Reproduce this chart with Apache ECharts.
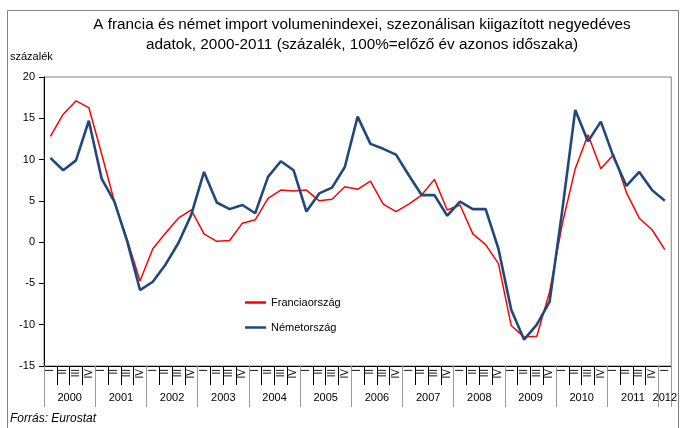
<!DOCTYPE html>
<html>
<head>
<meta charset="utf-8">
<script src="https://cdn.jsdelivr.net/npm/echarts@6/dist/echarts.min.js"></script>
<style>
  html, body { margin: 0; padding: 0; background: #fff; }
  #chart { width: 680px; height: 428px; }
</style>
</head>
<body>
<div id="chart"></div>
<script>
// negyedévek (2000 I - 2012 I)
const quarterNames = ['I', 'II', 'III', 'IV']
const years = ['2000', '2001', '2002', '2003', '2004', '2005', '2006', '2007', '2008', '2009', '2010', '2011', '2012']
const yTicks = [-15, -10, -5, 0, 5, 10, 15, 20]

const france = [12.8, 15.5, 17.1, 16.3, 10.7, 4.9, 0.3, -4.7,
  -0.8, 1.1, 2.9, 3.9, 1.0, 0.1, 0.2, 2.3,
  2.7, 5.3, 6.3, 6.2, 6.3, 5.0, 5.2, 6.7,
  6.4, 7.4, 4.6, 3.7, 4.6, 5.7, 7.6, 3.9,
  4.5, 1.0, -0.3, -2.6, -10.1, -11.5, -11.4, -6.0,
  2.3, 8.9, 13.0, 8.9, 10.6, 6.0, 2.9, 1.5,
  -0.9]
const germany = [10.2, 8.7, 9.9, 14.7, 7.7, 4.9, 0.1, -5.8,
  -4.8, -2.7, -0.1, 3.3, 8.5, 4.8, 4.0, 4.5,
  3.5, 7.9, 9.8, 8.7, 3.7, 5.9, 6.6, 9.1,
  15.2, 11.9, 11.3, 10.6, 8.1, 5.7, 5.7, 3.2,
  4.9, 4.0, 4.0, -0.8, -8.2, -11.8, -10.0, -7.2,
  4.0, 16.0, 12.2, 14.6, 10.3, 6.8, 8.5, 6.3,
  5.0]

const n = france.length
let quarters = []
let yearRow = []
for (let i = 0; i < n; i++) {
  quarters.push(quarterNames[i % 4])
  yearRow.push('')
}
// évszám a 2. negyedév helyén (jobbra tolva), az utolsó évnél a saját helyén
for (let k = 0; k < years.length; k++) {
  let idx = 4 * k + 1
  if (idx < n) yearRow[idx] = '{m|' + years[k] + '}'
  else yearRow[4 * k] = '{e|' + years[k] + '}'
}

const font = 'Liberation Sans, Arial, sans-serif'
let HChart = echarts.init(document.getElementById('chart'))

let option = {
  animation: false,
  textStyle: { fontFamily: font },
  graphic: [{
    type: 'rect',
    shape: { x: 7.5, y: 10.5, width: 671, height: 440 },
    style: { fill: 'none', stroke: '#808080', lineWidth: 1 },
    silent: true
  }],
  title: [{
    text: 'A francia és német import volumenindexei, szezonálisan kiigazított negyedéves\nadatok, 2000-2011 (százalék, 100%=előző év azonos időszaka)',
    left: 362,
    top: 15,
    padding: 0,
    textAlign: 'center',
    textStyle: { fontFamily: font, fontSize: 15.3, fontWeight: 'normal', color: '#000', lineHeight: 20 }
  }, {
    text: 'százalék',
    left: 10,
    top: 51,
    padding: 0,
    textStyle: { fontFamily: font, fontSize: 11, fontWeight: 'normal', color: '#000' }
  }, {
    text: 'Forrás: Eurostat',
    left: 10,
    top: 413,
    padding: 0,
    textStyle: { fontFamily: font, fontSize: 12, fontWeight: 'normal', fontStyle: 'italic', color: '#000' }
  }],
  legend: {
    orient: 'vertical',
    left: 240,
    top: 292,
    itemWidth: 21,
    itemHeight: 2.5,
    itemGap: 14,
    icon: 'rect',
    textStyle: { fontFamily: font, fontSize: 11, color: '#000' },
    data: ['Franciaország', 'Németország']
  },
  grid: {
    left: 44,
    right: 1,
    top: 77,
    bottom: 62,
    show: true,
    borderColor: '#808080',
    borderWidth: 1
  },
  xAxis: [{
    type: 'category',
    data: quarters,
    boundaryGap: true,
    axisLine: { onZero: false, lineStyle: { color: '#000', width: 1 } },
    axisTick: { show: true, interval: 0, length: 19, lineStyle: { color: '#000' } },
    axisLabel: { interval: 0, rotate: 90, margin: 3, fontSize: 10, color: '#000', fontFamily: font }
  }, {
    type: 'category',
    data: yearRow,
    position: 'bottom',
    boundaryGap: true,
    axisLine: { show: false, onZero: false },
    axisTick: {
      show: true,
      interval: function (i) { return i % 4 === 0 },
      length: 41,
      lineStyle: { color: '#9a9a9a' }
    },
    axisLabel: {
      interval: 0,
      margin: 26,
      fontSize: 11,
      color: '#000',
      fontFamily: font,
      rich: {
        m: { fontSize: 11, fontFamily: font, color: '#000', padding: [0, 0, 0, 13] },
        e: { fontSize: 11, fontFamily: font, color: '#000' }
      }
    }
  }],
  yAxis: {
    type: 'value',
    min: yTicks[0],
    max: yTicks[yTicks.length - 1],
    interval: 5,
    axisLine: { show: true, lineStyle: { color: '#000' } },
    axisTick: { show: true, length: 5, lineStyle: { color: '#000' } },
    splitLine: { show: false },
    axisLabel: { margin: 9, fontSize: 11, color: '#000', fontFamily: font }
  },
  series: [{
    name: 'Franciaország',
    type: 'line',
    data: france,
    symbol: 'none',
    lineStyle: { color: '#ff0000', width: 1.5 },
    itemStyle: { color: '#ff0000' }
  }, {
    name: 'Németország',
    type: 'line',
    data: germany,
    symbol: 'none',
    lineStyle: { color: '#1f497d', width: 2.6 },
    itemStyle: { color: '#1f497d' }
  }]
}

HChart.setOption(option)
</script>
</body>
</html>
